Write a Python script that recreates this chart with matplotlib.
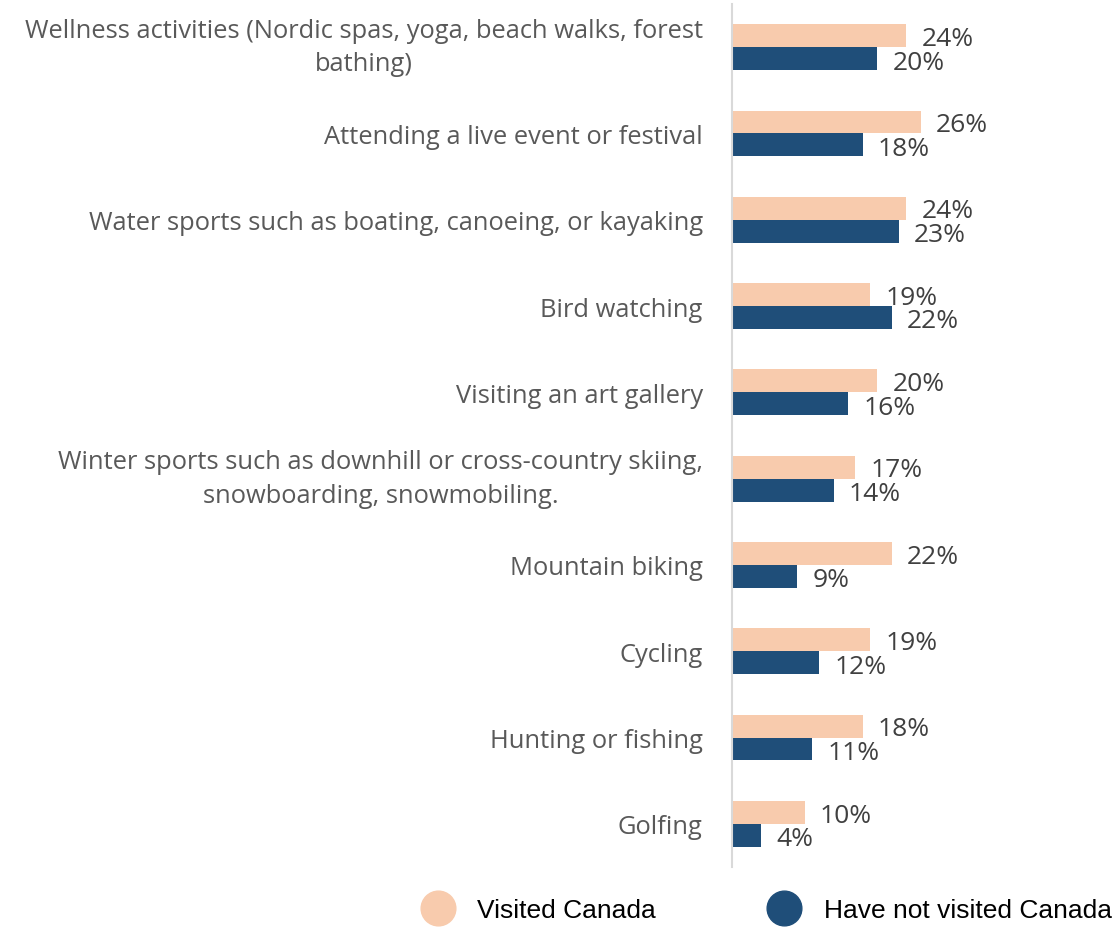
import matplotlib
matplotlib.use('Agg')
import matplotlib.pyplot as plt
import numpy as np
from matplotlib.lines import Line2D

# survey data, top to bottom as in the chart
categories = [
    'Wellness activities (Nordic spas, yoga, beach walks, forest\nbathing)',
    'Attending a live event or festival',
    'Water sports such as boating, canoeing, or kayaking',
    'Bird watching',
    'Visiting an art gallery',
    'Winter sports such as downhill or cross-country skiing,\nsnowboarding, snowmobiling.',
    'Mountain biking',
    'Cycling',
    'Hunting or fishing',
    'Golfing',
]
visited = [24, 26, 24, 19, 20, 17, 22, 19, 18, 10]
not_visited = [20, 18, 23, 22, 16, 14, 9, 12, 11, 4]
series_names = ['Visited Canada', 'Have not visited Canada']

peach = '#F8CBAD'
navy = '#1F4E79'
grey = '#595959'

fig = plt.figure(figsize=(11.15, 9.28), dpi=100)
ax = fig.add_axes([732 / 1115, 60 / 928, 373 / 1115, 863 / 928])

y = np.arange(len(categories))
h = 0.265
ax.barh(y - h / 2, visited, height=h, color=peach)
ax.barh(y + h / 2, not_visited, height=h, color=navy)

ax.set_xlim(0, 51.4)
ax.set_ylim(len(categories) - 0.5, -0.5)

# value labels next to each bar
for i in range(len(categories)):
    ax.text(visited[i] + 2.1, y[i] - h / 2 + 0.03, '%d%%' % visited[i],
            va='center', ha='left', fontsize=19, color='#404040', family='Open Sans')
    ax.text(not_visited[i] + 2.1, y[i] + h / 2 + 0.04, '%d%%' % not_visited[i],
            va='center', ha='left', fontsize=19, color='#404040', family='Open Sans')

ax.set_yticks(y)
ax.set_yticklabels(categories, fontsize=18.4, color=grey, family='Open Sans',
                   multialignment='center', linespacing=1.45)
# two-line labels need plain centering, otherwise they sit low
for lab in ax.get_yticklabels():
    if '\n' in lab.get_text():
        lab.set_va('center')
ax.tick_params(axis='y', length=0, pad=21)
ax.set_xticks([])
for s in ['top', 'right', 'bottom']:
    ax.spines[s].set_visible(False)
ax.spines['left'].set_color('#D9D9D9')
ax.spines['left'].set_linewidth(1.5)

handles = [Line2D([], [], marker='o', linestyle='none', markersize=25,
                  markerfacecolor=c, markeredgecolor=c) for c in (peach, navy)]
fig.legend(handles, series_names, loc='center', bbox_to_anchor=(764 / 1115, 1 - 911 / 928),
           ncol=2, frameon=False, prop={'family': 'Liberation Sans', 'size': 19},
           handlelength=1.6, handletextpad=0.7, columnspacing=4.05, borderaxespad=0)

fig.savefig('out.png', dpi=100)
